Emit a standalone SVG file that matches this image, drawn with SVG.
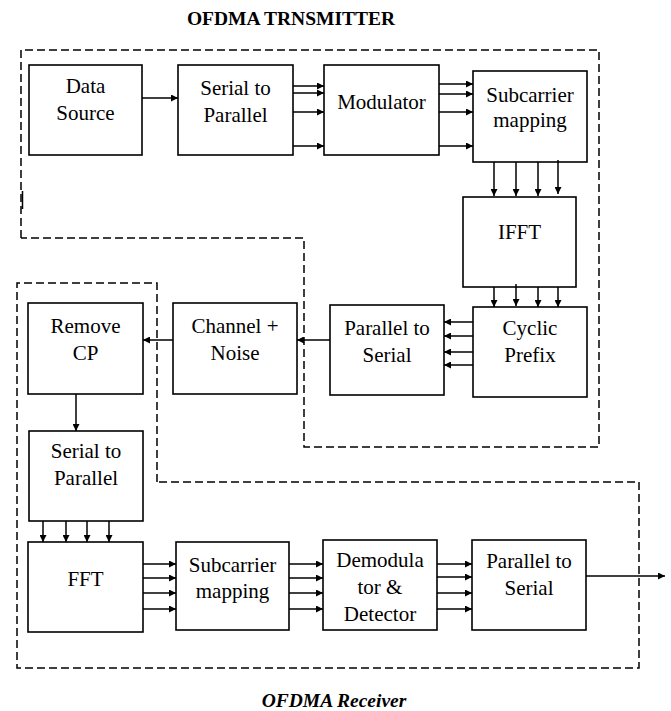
<svg xmlns="http://www.w3.org/2000/svg" width="671" height="711" viewBox="0 0 671 711" font-family="'Liberation Serif', serif">
<style>
.box{fill:#fff;stroke:#000;stroke-width:1.6}
.dash{fill:none;stroke:#000;stroke-width:1.5;stroke-dasharray:8 4}
.c line{stroke:#000;stroke-width:1.5}
</style>
<defs>
<marker id="ah" viewBox="0 0 10 10" refX="10" refY="5" markerWidth="7" markerHeight="7" markerUnits="userSpaceOnUse" orient="auto">
<path d="M0,0 L10,5 L0,10 z" fill="#000"/>
</marker>
</defs>
<rect width="671" height="711" fill="#fff"/>
<text x="291" y="25" font-family="'Liberation Serif', serif" font-size="19.5" font-weight="bold" text-anchor="middle">OFDMA TRNSMITTER</text>
<text x="334" y="707" font-family="'Liberation Serif', serif" font-size="19.5" font-weight="bold" font-style="italic" text-anchor="middle">OFDMA Receiver</text>

<g id="boundaries">
<path class="dash" d="M21,238 L21,50 L599,50 L599,447 L304,447 L304,238 L21,238"/>
<line x1="22.5" y1="191" x2="22.5" y2="209" stroke="#000" stroke-width="1.5"/>
<path class="dash" d="M157,482 L157,283 L17,283 L17,668 L639,668 L639,482 L157,482"/>
</g>

<g id="data-source"><rect class="box" x="29" y="65" width="113" height="90"/><text font-family="'Liberation Serif', serif" font-size="21" text-anchor="middle"><tspan x="85.5" y="93" font-family="'Liberation Serif', serif">Data</tspan><tspan x="85.5" y="120" font-family="'Liberation Serif', serif">Source</tspan></text></g>
<g id="tx-s2p"><rect class="box" x="178" y="65" width="115" height="90"/><text font-family="'Liberation Serif', serif" font-size="21" text-anchor="middle"><tspan x="235.5" y="95" font-family="'Liberation Serif', serif">Serial to</tspan><tspan x="235.5" y="122" font-family="'Liberation Serif', serif">Parallel</tspan></text></g>
<g id="modulator"><rect class="box" x="324" y="65" width="115" height="90"/><text font-family="'Liberation Serif', serif" font-size="21" text-anchor="middle"><tspan x="381.5" y="109" font-family="'Liberation Serif', serif">Modulator</tspan></text></g>
<g id="tx-subcarrier"><rect class="box" x="473" y="71" width="114" height="91"/><text font-family="'Liberation Serif', serif" font-size="21" text-anchor="middle"><tspan x="530" y="102" font-family="'Liberation Serif', serif">Subcarrier</tspan><tspan x="530" y="127" font-family="'Liberation Serif', serif">mapping</tspan></text></g>
<g id="ifft"><rect class="box" x="463" y="197" width="113" height="90"/><text font-family="'Liberation Serif', serif" font-size="21" text-anchor="middle"><tspan x="519.5" y="239" font-family="'Liberation Serif', serif">IFFT</tspan></text></g>
<g id="cyclic-prefix"><rect class="box" x="473" y="307" width="114" height="90"/><text font-family="'Liberation Serif', serif" font-size="21" text-anchor="middle"><tspan x="530" y="335" font-family="'Liberation Serif', serif">Cyclic</tspan><tspan x="530" y="362" font-family="'Liberation Serif', serif">Prefix</tspan></text></g>
<g id="tx-p2s"><rect class="box" x="330" y="305" width="114" height="90"/><text font-family="'Liberation Serif', serif" font-size="21" text-anchor="middle"><tspan x="387" y="335" font-family="'Liberation Serif', serif">Parallel to</tspan><tspan x="387" y="362" font-family="'Liberation Serif', serif">Serial</tspan></text></g>
<g id="channel"><rect class="box" x="173" y="303" width="124" height="91"/><text font-family="'Liberation Serif', serif" font-size="21" text-anchor="middle"><tspan x="235" y="333" font-family="'Liberation Serif', serif">Channel +</tspan><tspan x="235" y="360" font-family="'Liberation Serif', serif">Noise</tspan></text></g>
<g id="remove-cp"><rect class="box" x="28" y="303" width="115" height="91"/><text font-family="'Liberation Serif', serif" font-size="21" text-anchor="middle"><tspan x="85.5" y="333" font-family="'Liberation Serif', serif">Remove</tspan><tspan x="85.5" y="360" font-family="'Liberation Serif', serif">CP</tspan></text></g>
<g id="rx-s2p"><rect class="box" x="29" y="431" width="114" height="90"/><text font-family="'Liberation Serif', serif" font-size="21" text-anchor="middle"><tspan x="86" y="458" font-family="'Liberation Serif', serif">Serial to</tspan><tspan x="86" y="485" font-family="'Liberation Serif', serif">Parallel</tspan></text></g>
<g id="fft"><rect class="box" x="28" y="542" width="115" height="90"/><text font-family="'Liberation Serif', serif" font-size="21" text-anchor="middle"><tspan x="85.5" y="586" font-family="'Liberation Serif', serif">FFT</tspan></text></g>
<g id="rx-subcarrier"><rect class="box" x="176" y="542" width="113" height="88"/><text font-family="'Liberation Serif', serif" font-size="21" text-anchor="middle"><tspan x="232.5" y="572" font-family="'Liberation Serif', serif">Subcarrier</tspan><tspan x="232.5" y="598" font-family="'Liberation Serif', serif">mapping</tspan></text></g>
<g id="demodulator"><rect class="box" x="323" y="540" width="114" height="90"/><text font-family="'Liberation Serif', serif" font-size="21" text-anchor="middle"><tspan x="380" y="567" font-family="'Liberation Serif', serif">Demodula</tspan><tspan x="380" y="594" font-family="'Liberation Serif', serif">tor &amp;</tspan><tspan x="380" y="621" font-family="'Liberation Serif', serif">Detector</tspan></text></g>
<g id="rx-p2s"><rect class="box" x="472" y="540" width="114" height="90"/><text font-family="'Liberation Serif', serif" font-size="21" text-anchor="middle"><tspan x="529" y="568" font-family="'Liberation Serif', serif">Parallel to</tspan><tspan x="529" y="595" font-family="'Liberation Serif', serif">Serial</tspan></text></g>

<g id="connectors" class="c">
<line x1="142" y1="98" x2="178" y2="98" marker-end="url(#ah)"/>
<line x1="293" y1="86" x2="324" y2="86" marker-end="url(#ah)"/>
<line x1="293" y1="93" x2="324" y2="93" marker-end="url(#ah)"/>
<line x1="293" y1="112" x2="324" y2="112" marker-end="url(#ah)"/>
<line x1="293" y1="146" x2="324" y2="146" marker-end="url(#ah)"/>
<line x1="439" y1="84" x2="473" y2="84" marker-end="url(#ah)"/>
<line x1="439" y1="94" x2="473" y2="94" marker-end="url(#ah)"/>
<line x1="439" y1="112" x2="473" y2="112" marker-end="url(#ah)"/>
<line x1="439" y1="146" x2="473" y2="146" marker-end="url(#ah)"/>
<line x1="494" y1="162" x2="494" y2="196" marker-end="url(#ah)"/>
<line x1="516" y1="162" x2="516" y2="196" marker-end="url(#ah)"/>
<line x1="538" y1="162" x2="538" y2="196" marker-end="url(#ah)"/>
<line x1="558" y1="160" x2="558" y2="194" marker-end="url(#ah)"/>
<line x1="494" y1="287" x2="494" y2="307" marker-end="url(#ah)"/>
<line x1="516" y1="284" x2="516" y2="306" marker-end="url(#ah)"/>
<line x1="538" y1="287" x2="538" y2="307" marker-end="url(#ah)"/>
<line x1="558" y1="287" x2="558" y2="307" marker-end="url(#ah)"/>
<line x1="473" y1="322" x2="444" y2="322" marker-end="url(#ah)"/>
<line x1="473" y1="336" x2="444" y2="336" marker-end="url(#ah)"/>
<line x1="473" y1="352" x2="444" y2="352" marker-end="url(#ah)"/>
<line x1="473" y1="365" x2="444" y2="365" marker-end="url(#ah)"/>
<line x1="330" y1="340" x2="297" y2="340" marker-end="url(#ah)"/>
<line x1="173" y1="340" x2="143" y2="340" marker-end="url(#ah)"/>
<line x1="76" y1="394" x2="76" y2="431" marker-end="url(#ah)"/>
<line x1="43" y1="521" x2="43" y2="542" marker-end="url(#ah)"/>
<line x1="66" y1="521" x2="66" y2="542" marker-end="url(#ah)"/>
<line x1="87" y1="521" x2="87" y2="542" marker-end="url(#ah)"/>
<line x1="109" y1="521" x2="109" y2="542" marker-end="url(#ah)"/>
<line x1="143" y1="564" x2="176" y2="564" marker-end="url(#ah)"/>
<line x1="143" y1="578" x2="176" y2="578" marker-end="url(#ah)"/>
<line x1="143" y1="593" x2="176" y2="593" marker-end="url(#ah)"/>
<line x1="143" y1="609" x2="176" y2="609" marker-end="url(#ah)"/>
<line x1="289" y1="564" x2="323" y2="564" marker-end="url(#ah)"/>
<line x1="289" y1="578" x2="323" y2="578" marker-end="url(#ah)"/>
<line x1="289" y1="593" x2="323" y2="593" marker-end="url(#ah)"/>
<line x1="289" y1="609" x2="323" y2="609" marker-end="url(#ah)"/>
<line x1="437" y1="564" x2="472" y2="564" marker-end="url(#ah)"/>
<line x1="437" y1="577" x2="472" y2="577" marker-end="url(#ah)"/>
<line x1="437" y1="593" x2="472" y2="593" marker-end="url(#ah)"/>
<line x1="437" y1="609" x2="472" y2="609" marker-end="url(#ah)"/>
<line x1="586" y1="576" x2="665" y2="576" marker-end="url(#ah)"/>
</g>
</svg>
